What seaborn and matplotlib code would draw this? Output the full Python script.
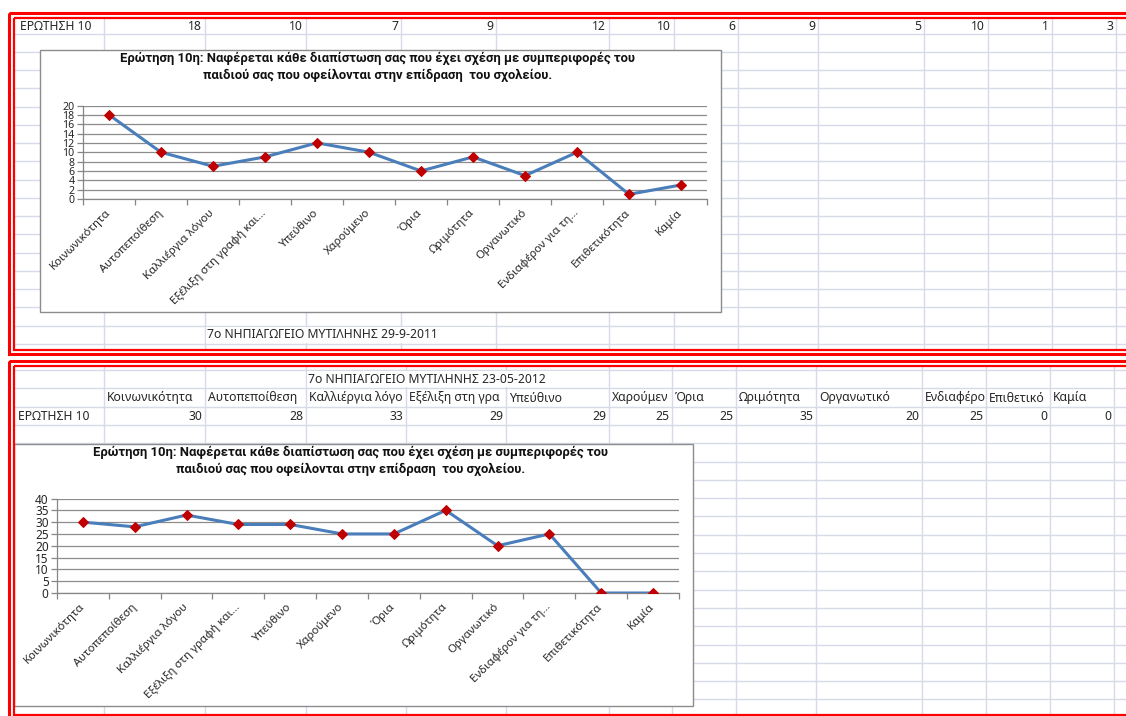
import numpy as np
import pandas as pd
import matplotlib
matplotlib.use("Agg")
import matplotlib.pyplot as plt
import seaborn as sns
from matplotlib.patches import Rectangle

# ── data ─────────────────────────────────────────────────────────────────────
categories = ["Κοινωνικότητα", "Αυτοπεποίθεση", "Καλλιέργια λόγου",
              "Εξέλιξη στη γραφή και…", "Υπεύθινο", "Χαρούμενο", "Όρια",
              "Ωριμότητα", "Οργανωτικό", "Ενδιαφέρον για τη…",
              "Επιθετικότητα", "Καμία"]
values_2011 = [18, 10, 7, 9, 12, 10, 6, 9, 5, 10, 1, 3]
values_2012 = [30, 28, 33, 29, 29, 25, 25, 35, 20, 25, 0, 0]
row_label = "ΕΡΩΤΗΣΗ 10"
chart_title = ("Ερώτηση 10η: Ναφέρεται κάθε διαπίστωση σας που έχει σχέση με συμπεριφορές του\n"
               "παιδιού σας που οφείλονται στην επίδραση  του σχολείου.")
school_2011 = "7ο ΝΗΠΙΑΓΩΓΕΙΟ ΜΥΤΙΛΗΝΗΣ 29-9-2011"
school_2012 = "7ο ΝΗΠΙΑΓΩΓΕΙΟ ΜΥΤΙΛΗΝΗΣ 23-05-2012"

# ── layout (pixels) ──────────────────────────────────────────────────────────
W, H = 1126, 716
cols_top = [104, 205, 306, 401, 496, 609, 674, 738, 818, 924, 988, 1052, 1116]
cols_bot = [104, 205, 306, 406, 506, 609, 672, 736, 816, 922, 986, 1050, 1114]
GRID = "#D6DBE7"
RED = "#FF0000"
LINE = "#4A7EBB"
MARK = "#C00000"
AXC = "#868686"
CELL_FS = 8.8

sns.set_style("white")
plt.rcParams["font.family"] = ["Noto Sans", "DejaVu Sans"]

fig = plt.figure(figsize=(W / 100, H / 100), dpi=100)
bg = fig.add_axes([0, 0, 1, 1])
bg.set_xlim(0, W)
bg.set_ylim(H, 0)
bg.axis("off")
renderer = fig.canvas.get_renderer()


def px_axes(l, t, r, b):
    return fig.add_axes([l / W, 1 - b / H, (r - l) / W, (b - t) / H])


def sheet(top, bottom, cols, row0, step):
    for y in np.arange(row0, bottom, step):
        bg.plot([14, W], [y, y], color=GRID, lw=1, zorder=1)
    for x in cols:
        bg.plot([x, x], [top, bottom], color=GRID, lw=1, zorder=1)


def frame(o_top, i_top, i_bot, o_bot):
    bg.add_patch(Rectangle((9, o_top), W + 40, o_bot - o_top, fill=False,
                           edgecolor=RED, lw=2.2, zorder=5))
    bg.add_patch(Rectangle((14, i_top), W + 40, i_bot - i_top, fill=False,
                           edgecolor=RED, lw=1.6, zorder=5))


def spill_text(x0, x1, y0, y1, s):
    # text running over empty cells hides their gridlines
    bg.add_patch(Rectangle((x0 + 1, y0 + 1), x1 - x0 - 2, y1 - y0 - 2,
                           facecolor="white", edgecolor="none", zorder=1.5))
    bg.text(x0 + 2, (y0 + y1) / 2, s, va="center", fontsize=CELL_FS, zorder=2)


def cell_text(x0, x1, y, s):
    # Excel cuts a label at the next filled cell
    t = bg.text(x0 + 3, y, s, va="center", fontsize=CELL_FS, zorder=2)
    while len(s) > 1 and t.get_window_extent(renderer).width > x1 - x0 - 3:
        s = s[:-1]
        t.set_text(s)
    return t


def chart(box, plot, values, ymax, ystep, ylab_fs):
    l, t, r, b = box
    bg.add_patch(Rectangle((l, t), r - l, b - t, facecolor="white",
                           edgecolor="#8C8C8C", lw=1, zorder=3))
    bg.text((l + r) / 2 - 3, t + 17, chart_title, ha="center", va="center",
            fontsize=9.4, fontweight="bold", family=["Roboto", "DejaVu Sans"],
            linespacing=1.3, zorder=4, color="#111111")
    ax = px_axes(*plot)
    df = pd.DataFrame({"pos": np.arange(len(categories)), "value": values})
    sns.lineplot(data=df, x="pos", y="value", ax=ax, color=LINE, lw=2.2,
                 marker="D", markersize=5.5, markerfacecolor=MARK,
                 markeredgecolor=MARK, zorder=3)
    ax.patch.set_alpha(0)
    ax.set_xlim(-0.5, len(categories) - 0.5)
    ax.set_ylim(0, ymax)
    ax.set_yticks(np.arange(0, ymax + 1, ystep))
    ax.yaxis.grid(True, color="#8C8C8C", lw=0.9)
    ax.set_axisbelow(True)
    ax.set_xticks(np.arange(len(categories)))
    ax.set_xticklabels(categories, rotation=45, ha="right", va="center",
                       rotation_mode="anchor", fontsize=8.2)
    ax.set_xticks(np.arange(-0.5, len(categories)), minor=True)
    ax.tick_params(axis="x", which="major", length=0, pad=9)
    ax.tick_params(axis="x", which="minor", bottom=True, length=4,
                   color=AXC, width=0.9, direction="out")
    ax.tick_params(axis="y", left=True, length=4, color=AXC, width=0.9,
                   direction="out", pad=2, labelsize=ylab_fs)
    for s in ["top", "right"]:
        ax.spines[s].set_visible(False)
    for s in ["left", "bottom"]:
        ax.spines[s].set_color(AXC)
        ax.spines[s].set_linewidth(0.9)
    ax.set_xlabel("")
    ax.set_ylabel("")
    return ax


# ── top sheet (2011) ─────────────────────────────────────────────────────────
sheet(17, 349, cols_top, 33.5, 18.25)
frame(13, 17.5, 349.5, 354)
bg.text(20, 26, row_label, va="center", fontsize=CELL_FS, zorder=2)
for x, v in zip(cols_top[1:], values_2011):
    bg.text(x - 3, 26, str(v), ha="right", va="center", fontsize=CELL_FS, zorder=2)
spill_text(cols_top[1], cols_top[4], 326, 344, school_2011)
chart((40, 50, 721, 312), (83, 105.5, 707, 199), values_2011, 20, 2, 7.6)

# ── bottom sheet (2012) ──────────────────────────────────────────────────────
sheet(366, 716, cols_bot, 370, 18.3)
frame(361, 366, 715, 730)
spill_text(cols_bot[2], cols_bot[5], 370, 388.3, school_2012)
bg.text(18, 416, row_label, va="center", fontsize=CELL_FS, zorder=2)
for i, name in enumerate(categories):
    cell_text(cols_bot[i], cols_bot[i + 1], 398, name)
for x, v in zip(cols_bot[1:], values_2012):
    bg.text(x - 3, 416, str(v), ha="right", va="center", fontsize=CELL_FS, zorder=2)
chart((14, 444, 693, 706), (57, 498.5, 679, 593), values_2012, 40, 5, 8.5)

plt.savefig("out.png", dpi=100)
plt.close()
